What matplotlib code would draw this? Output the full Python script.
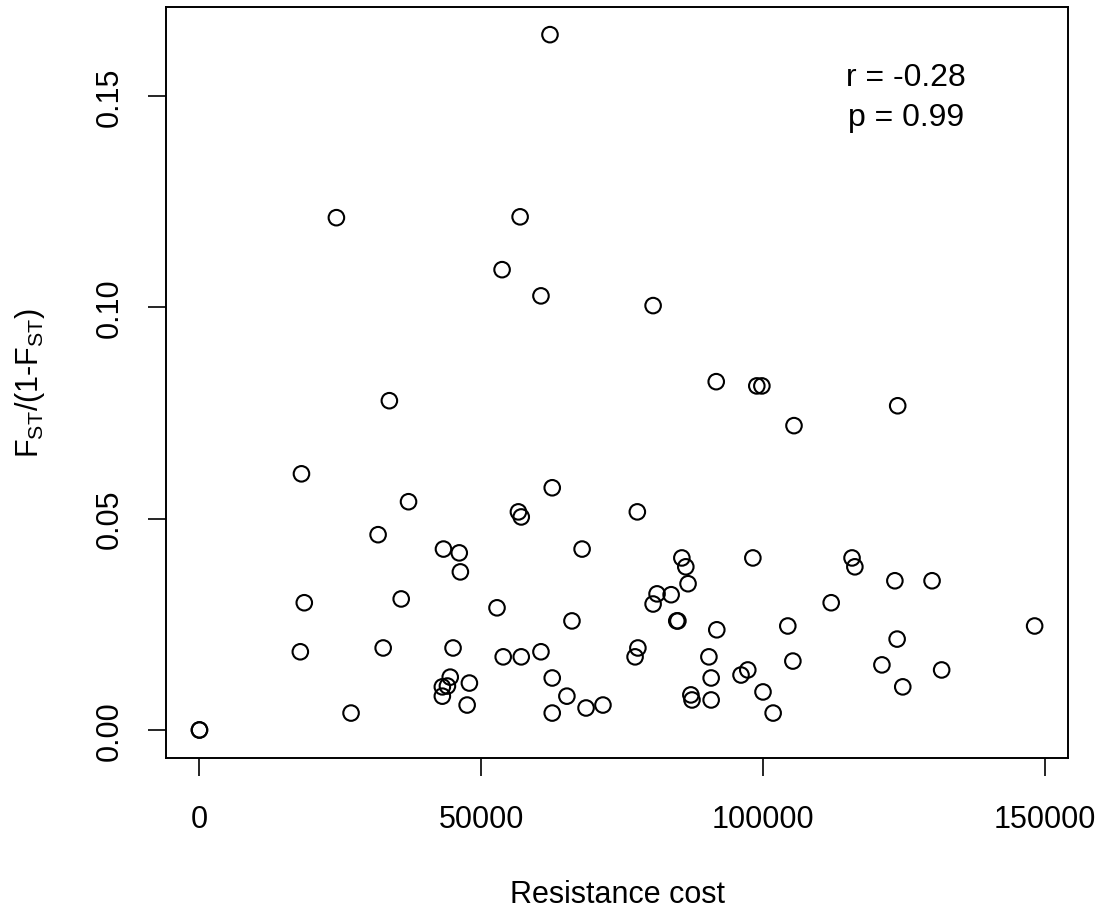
import matplotlib
matplotlib.use("Agg")
import matplotlib.pyplot as plt

plt.rcParams['font.family'] = ['Liberation Sans', 'DejaVu Sans']
plt.rcParams['mathtext.default'] = 'regular'

# Resistance cost vs FST/(1-FST)
resistance_cost = [
    0, 0, 17900, 18600, 18100, 24300, 26900, 32600, 31700, 35800,
    33700, 37100, 43300, 46100, 46300, 45000, 44500, 44000, 43100, 43100,
    47900, 47500, 52800, 53900, 57100, 60600, 62600, 65200, 62600, 68600,
    71600, 66100, 67900, 56600, 57100, 62600, 53700, 56900, 60600, 62200,
    80500, 77700, 77800, 77300, 81200, 80500, 83700, 85600, 86300, 86700,
    84700, 84900, 91800, 90400, 90800, 87200, 87400, 90800, 96100, 97300,
    100000, 101800, 98200, 104400, 105300, 91700, 98900, 99800, 105500, 123900,
    115800, 116300, 123400, 130000, 112100, 123800, 121100, 131700, 124800, 148200,
]
fst_ratio = [
    0.0, 0.0, 0.0185, 0.0301, 0.0606, 0.1212, 0.0040, 0.0194, 0.0462, 0.0310,
    0.0779, 0.0540, 0.0428, 0.0419, 0.0374, 0.0194, 0.0125, 0.0104, 0.0102, 0.0080,
    0.0111, 0.0059, 0.0289, 0.0173, 0.0173, 0.0185, 0.0123, 0.0080, 0.0040, 0.0052,
    0.0059, 0.0258, 0.0428, 0.0516, 0.0504, 0.0573, 0.1089, 0.1214, 0.1027, 0.1645,
    0.1004, 0.0516, 0.0194, 0.0173, 0.0322, 0.0298, 0.0320, 0.0407, 0.0386, 0.0346,
    0.0258, 0.0258, 0.0237, 0.0173, 0.0123, 0.0083, 0.0071, 0.0071, 0.0130, 0.0142,
    0.0090, 0.0040, 0.0407, 0.0246, 0.0163, 0.0824, 0.0814, 0.0814, 0.0720, 0.0767,
    0.0407, 0.0386, 0.0353, 0.0353, 0.0301, 0.0215, 0.0154, 0.0142, 0.0102, 0.0246,
]
x_ticks = [0, 50000, 100000, 150000]
y_ticks = [0.00, 0.05, 0.10, 0.15]
y_tick_labels = ['0.00', '0.05', '0.10', '0.15']
stats_text = 'r = -0.28\np = 0.99'

fig = plt.figure(figsize=(11.07, 9.12), dpi=100)
ax = fig.add_axes([0.150, 0.168, 0.8148, 0.8234])

ax.scatter(resistance_cost, fst_ratio, s=125, facecolors='none',
           edgecolors='black', linewidths=1.5, zorder=3)

# R-style 4% padding
xmin, xmax = min(resistance_cost), max(resistance_cost)
ymin, ymax = min(fst_ratio), max(fst_ratio)
dx = (xmax - xmin) * 0.04
dy = (ymax - ymin) * 0.04
ax.set_xlim(xmin - dx, xmax + dx)
ax.set_ylim(ymin - dy, ymax + dy)

ax.set_xticks(x_ticks)
ax.set_xticklabels([str(v) for v in x_ticks])
ax.set_yticks(y_ticks)
ax.set_yticklabels(y_tick_labels, rotation=90, va='center')
ax.tick_params(axis='both', length=13, width=1.2, labelsize=22)
ax.tick_params(axis='x', pad=20)
ax.tick_params(axis='y', pad=17)

for spine in ax.spines.values():
    spine.set_linewidth(1.4)

ax.set_xlabel('Resistance cost', fontsize=22, labelpad=33)
ax.set_ylabel(r'$F_{ST}$/(1-$F_{ST}$)', fontsize=22, labelpad=34)

ax.text(0.820, 0.880, stats_text, transform=ax.transAxes, fontsize=23,
        ha='center', va='center', linespacing=1.45)

fig.savefig('out.png', dpi=100)
